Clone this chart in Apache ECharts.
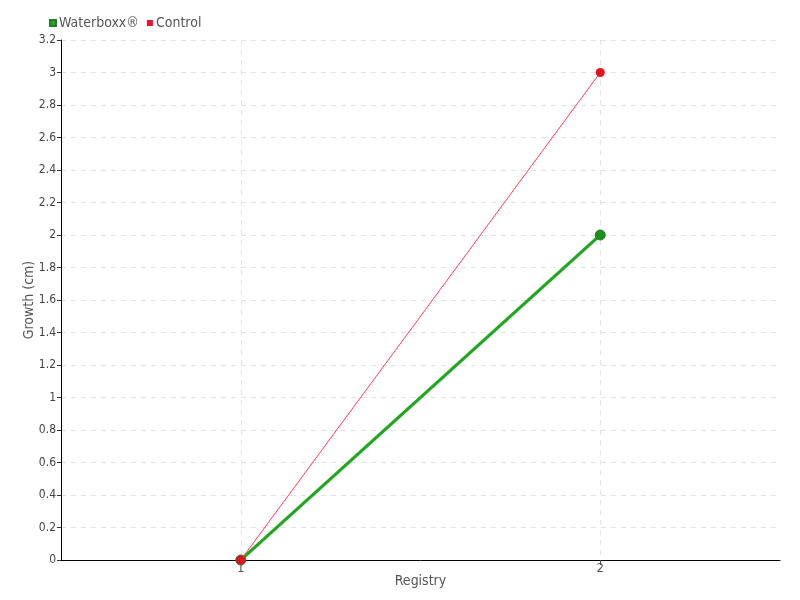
<!DOCTYPE html>
<html><head><meta charset="utf-8">
<script src="https://cdn.jsdelivr.net/npm/echarts@6/dist/echarts.min.js"></script>
<style>html,body{margin:0;padding:0;background:#fff}#c{width:800px;height:600px}</style>
</head><body><div id="c"></div>
<script>
const registry = [1, 2];
const waterboxx = [0, 2];
const control = [0, 3];
const yTicks = [0, 3.2, 0.2];

const font = "'Liberation Sans Narrow', 'DejaVu Sans Condensed', 'Roboto', sans-serif";
const chart = echarts.init(document.getElementById('c'));
chart.setOption({
  animation: false,
  textStyle: { fontFamily: font },
  legend: {
    left: 44, top: 11, itemWidth: 6, itemHeight: 6, itemGap: 8,
    icon: 'rect',
    textStyle: { fontFamily: font, fontSize: 14, color: '#555', padding: [0, 0, 0, -2] },
    data: [
      { name: 'Waterboxx®', itemStyle: { color: '#1fa81f' } },
      { name: 'Control', itemStyle: { color: '#ee1133' } }
    ]
  },
  grid: { left: 61, right: 20, top: 40, bottom: 40 },
  xAxis: {
    type: 'value', min: 0.5, max: 2.5, interval: 0.5,
    name: 'Registry', nameLocation: 'middle', nameGap: 14, nameMoveOverlap: false,
    nameTextStyle: { fontFamily: font, fontSize: 14, color: '#555' },
    axisLine: { lineStyle: { color: '#000' } },
    axisTick: { length: 5, lineStyle: { color: '#444' }, customValues: registry },
    axisLabel: { customValues: registry, color: '#555', fontSize: 13, margin: 2 },
    splitLine: { show: true, lineStyle: { type: [5, 5], color: '#e3e3e3' }, customValues: registry },
    showMinLabel: false, showMaxLabel: false
  },
  yAxis: {
    type: 'value', min: yTicks[0], max: yTicks[1], interval: yTicks[2],
    name: 'Growth (cm)', nameLocation: 'middle', nameGap: 25, nameMoveOverlap: false,
    nameTextStyle: { fontFamily: font, fontSize: 14, color: '#555' },
    axisLine: { show: true, lineStyle: { color: '#000' } },
    axisTick: { show: true, length: 4, lineStyle: { color: '#333' } },
    axisLabel: { color: '#444', fontSize: 12, margin: 5,
      formatter: v => String(Math.round(v * 10) / 10) },
    splitLine: { show: true, lineStyle: { type: [5, 5], color: '#e3e3e3' } }
  },
  series: [
    {
      name: 'Waterboxx®', type: 'line',
      data: registry.map((r, i) => [r, waterboxx[i]]),
      symbol: 'circle', symbolSize: 10,
      lineStyle: { width: 3, color: '#1fa81f', shadowColor: 'rgba(20,110,20,0.6)', shadowBlur: 1 },
      itemStyle: { color: '#1a8f1a', borderColor: '#2a7a2a', borderWidth: 1 },
      z: 2
    },
    {
      name: 'Control', type: 'line',
      data: registry.map((r, i) => [r, control[i]]),
      symbol: 'circle', symbolSize: 9,
      lineStyle: { width: 1, color: '#ff4060' },
      itemStyle: { color: '#e8101e' },
      z: 3
    }
  ]
});
</script></body></html>
